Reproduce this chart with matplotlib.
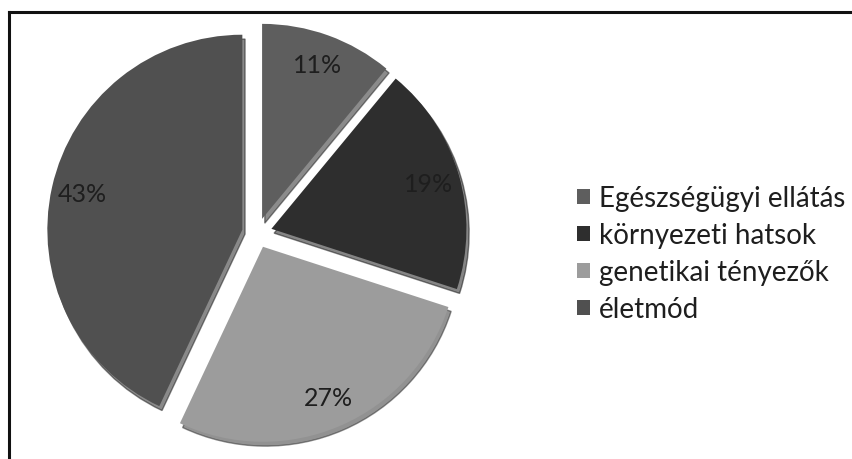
import numpy as np
import matplotlib.pyplot as plt
from matplotlib.lines import Line2D

# Slice data (clockwise from 12 o'clock)
labels = ["Egészségügyi ellátás", "környezeti hatsok", "genetikai tényezők", "életmód"]
values = [11, 19, 27, 43]
colors = ["#5e5e5e", "#2e2e2e", "#9c9c9c", "#505050"]

W, H = 853, 460
R = 195.0            # pie radius in pixels
cx, cy = 257, 234    # pie centre in pixels (from top-left)

plt.rcParams['font.family'] = ['Lato', 'DejaVu Sans']

fig = plt.figure(figsize=(W / 100, H / 100), dpi=100)
ax = fig.add_axes([0, 0, 1, 1])

wedges, texts, autotexts = ax.pie(
    values, colors=colors, startangle=90, counterclock=False,
    explode=[0.077] * len(values), autopct='%1.0f%%', pctdistance=0.84,
    shadow={'ox': 0.01, 'oy': -0.016, 'shade': 0.75},
    textprops={'fontsize': 18, 'color': '#1e1e1e'})

# map the data space onto pixels so the pie lands where it should
ax.set_xlim(-cx / R, (W - cx) / R)
ax.set_ylim(-(H - cy) / R, cy / R)
ax.set_aspect('equal')
ax.axis('off')

# frame (only top and left edges visible in the crop)
fig.add_artist(Line2D([9 / W, 1], [1 - 13 / H, 1 - 13 / H], color='#111111', lw=2.2))
fig.add_artist(Line2D([9 / W, 9 / W], [0, 1 - 13 / H], color='#111111', lw=2.2))

leg = ax.legend(wedges, labels, loc='upper left', bbox_to_anchor=(566 / W, 1 - 175 / H),
                bbox_transform=fig.transFigure, frameon=False, fontsize=20,
                handlelength=0.45, handleheight=0.45, handletextpad=0.35, labelspacing=0.4,
                borderaxespad=0)
for t in leg.get_texts():
    t.set_color('#1e1e1e')

fig.savefig('out.png', dpi=100)
